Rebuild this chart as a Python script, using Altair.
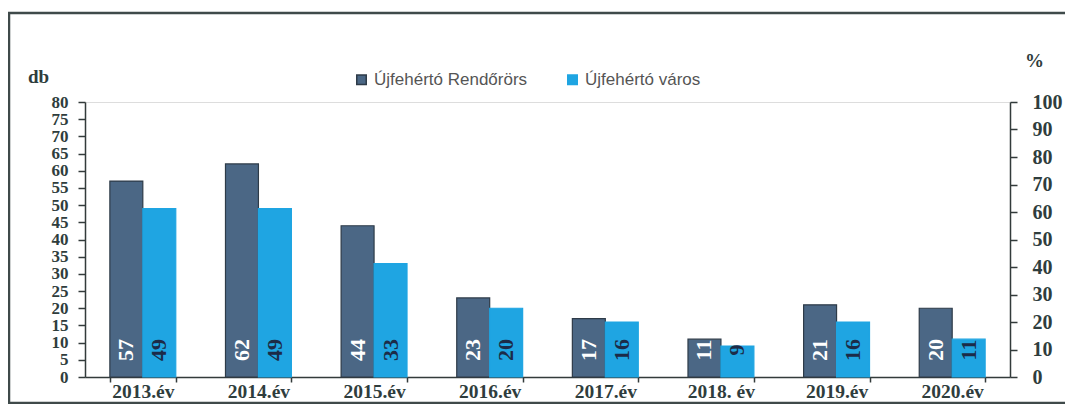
import altair as alt
import pandas as pd

years = ["2013.év", "2014.év", "2015.év", "2016.év", "2017.év", "2018. év", "2019.év", "2020.év"]
rendorors = [57, 62, 44, 23, 17, 11, 21, 20]
varos = [49, 49, 33, 20, 16, 9, 16, 11]
series = ["Újfehértó Rendőrörs", "Újfehértó város"]
bar_colors = ["#4b6785", "#1fa5e2"]
bar_strokes = ["#2e3b48", "#1fa5e2"]
pct_ticks = [0, 100]

rows = []
for i, yr in enumerate(years):
    rows.append({"year": yr, "series": series[0], "value": rendorors[i]})
    rows.append({"year": yr, "series": series[1], "value": varos[i]})
df = pd.DataFrame(rows)
pct = pd.DataFrame({"p": pct_ticks})

SERIF = "Liberation Serif"
TXT = "#2f3d3d"
LINE = "#333b3b"

x_axis = alt.Axis(title=None, labelAngle=0, tickBand="extent", tickSize=5,
                  labelPadding=0, labelFont=SERIF, labelFontWeight="bold",
                  labelFontSize=19.5, labelColor=TXT, domainColor=LINE,
                  tickColor=LINE, domainWidth=1.5, tickWidth=1.5)
x_scale = alt.Scale(paddingInner=0.43, paddingOuter=0.215)
xoff = alt.XOffset("series:N", sort=series, scale=alt.Scale(paddingInner=0, paddingOuter=0))

y_scale = alt.Scale(domain=[0, 80], nice=False)
y_axis = alt.Axis(values=list(range(0, 81, 5)), grid=False, tickSize=7, labelPadding=10,
                  labelOverlap=False, labelFlush=False,
                  labelFont=SERIF, labelFontWeight="bold", labelFontSize=17, labelColor=TXT,
                  domainColor=LINE, tickColor=LINE, domainWidth=1.5, tickWidth=1.5,
                  title="db", titleAngle=0, titleX=-47, titleY=-26, titleAlign="center",
                  titleBaseline="middle", titleFont=SERIF, titleFontWeight="bold",
                  titleFontSize=19, titleColor=TXT)

bars = alt.Chart(df).mark_bar(strokeWidth=1.2).encode(
    x=alt.X("year:N", sort=years, scale=x_scale, axis=x_axis),
    xOffset=xoff,
    y=alt.Y("value:Q", scale=y_scale, axis=y_axis),
    color=alt.Color("series:N", sort=series,
                    scale=alt.Scale(domain=series, range=bar_colors),
                    legend=alt.Legend(orient="none", legendX=268, legendY=-31,
                                      direction="horizontal", title=None,
                                      symbolType="square", symbolSize=90,
                                      labelFont="Liberation Sans", labelFontSize=17,
                                      labelColor="#555555", labelLimit=400,
                                      columnPadding=36, labelOffset=4)),
    stroke=alt.Stroke("series:N", sort=series,
                      scale=alt.Scale(domain=series, range=bar_strokes), legend=None),
)

labels = alt.Chart(df).transform_calculate(zero="0").mark_text(
    angle=270, dx=27, align="center", baseline="middle",
    font=SERIF, fontWeight="bold", fontSize=22,
).encode(
    x=alt.X("year:N", sort=years, scale=x_scale, axis=x_axis),
    xOffset=xoff,
    y=alt.Y("zero:Q", scale=y_scale, axis=y_axis),
    text=alt.Text("value:Q"),
    color=alt.condition(alt.datum.series == series[0], alt.value("#ffffff"), alt.value("#1c2b48")),
)

left = alt.layer(bars, labels)

right = alt.Chart(pct).mark_point(opacity=0).encode(
    y=alt.Y("p:Q", scale=alt.Scale(domain=[0, 100], nice=False),
            axis=alt.Axis(orient="right", values=list(range(0, 101, 10)), grid=False,
                          tickSize=7, labelPadding=15, labelOverlap=False, labelFlush=False,
                          labelFont=SERIF, labelFontWeight="bold", labelFontSize=20,
                          labelColor=TXT, domainColor=LINE, tickColor=LINE,
                          domainWidth=1.5, tickWidth=1.5,
                          title="%", titleAngle=0, titleX=24, titleY=-42,
                          titleAlign="center", titleBaseline="middle", titleFont=SERIF,
                          titleFontWeight="bold", titleFontSize=19, titleColor=TXT)),
)

frame = alt.Chart(pd.DataFrame({"a": [0]})).mark_rect(
    fill="transparent", stroke="#3f4a4a", strokeWidth=2.5
).encode(x=alt.value(-76), x2=alt.value(1100), y=alt.value(-89), y2=alt.value(301))

chart = alt.layer(left, right, frame).resolve_scale(y="independent").properties(
    width=925, height=275,
    autosize=alt.AutoSizeParams(type="none"),
    padding={"left": 77, "top": 94, "right": 55, "bottom": 27},
).configure_view(stroke=None).configure(background="white")

chart.save("out.html", embed_options={"renderer": "svg", "actions": False})
